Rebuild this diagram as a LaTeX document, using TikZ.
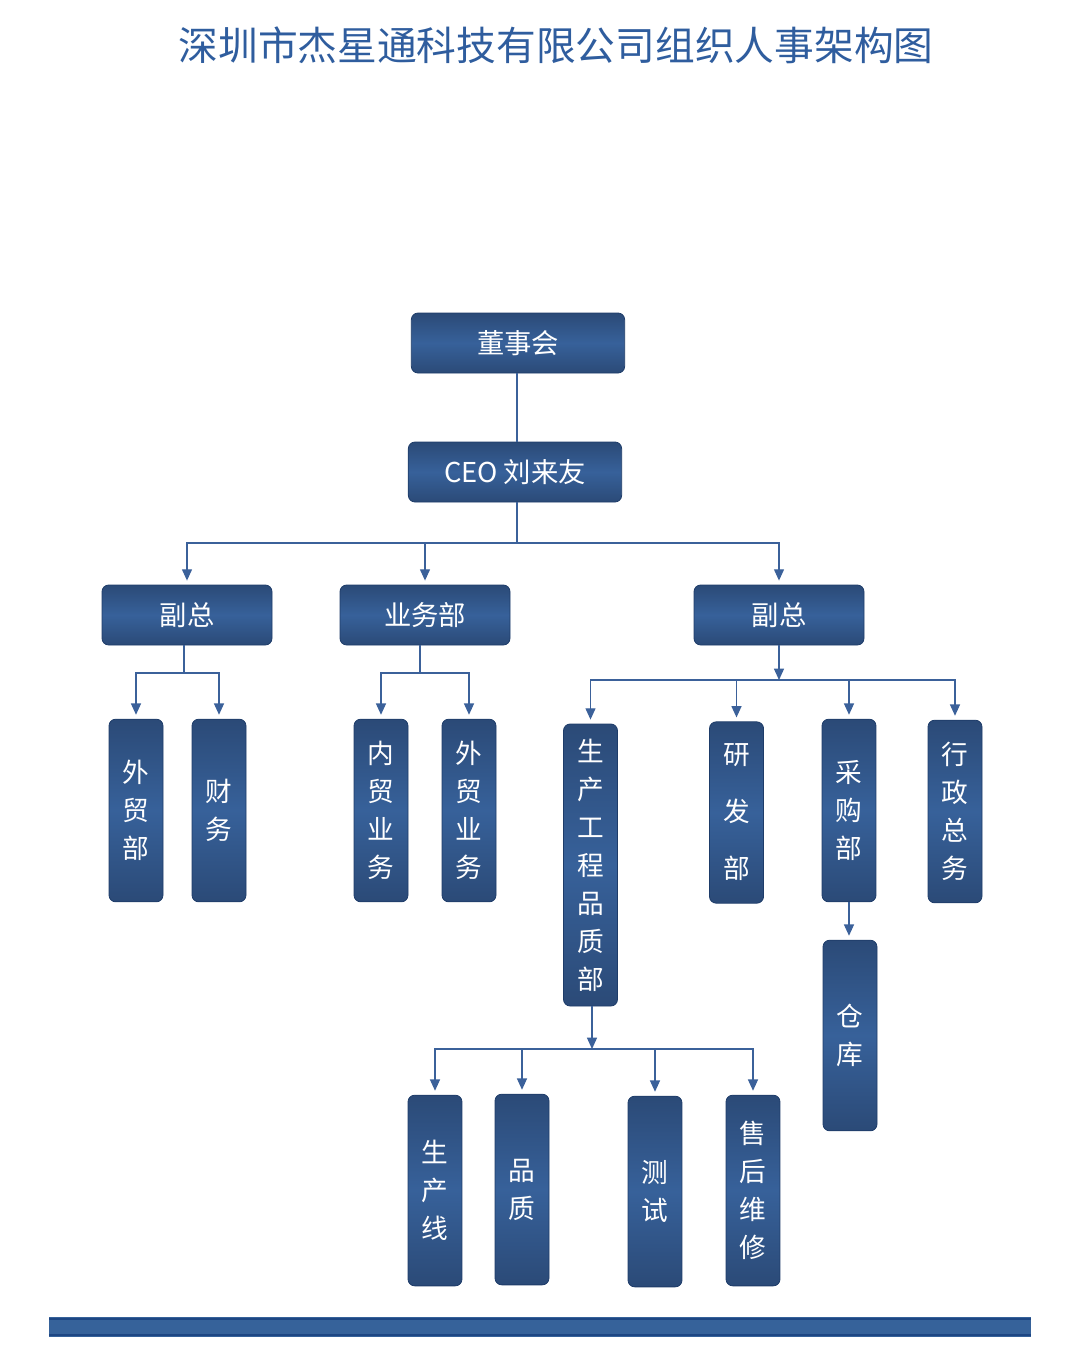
\documentclass[tikz,border=0pt]{standalone}
\usepackage{fontspec}
\setmainfont{Noto Sans CJK SC}
\usetikzlibrary{positioning,arrows.meta,calc}
\definecolor{boxdark}{HTML}{2B4A77}
\definecolor{boxmid}{HTML}{37619A}
\definecolor{boxline}{HTML}{1E3C69}
\definecolor{linkblue}{HTML}{3B619A}
\definecolor{titleblue}{HTML}{2F5D9E}
\definecolor{barblue}{HTML}{36629A}
\definecolor{bardark}{HTML}{1D4683}

\begin{document}
\begin{tikzpicture}[
    x=0.75pt, y=-0.75pt,
    box/.style={draw=boxline, line width=0.6pt, rounded corners=5pt,
                top color=boxdark, bottom color=boxdark, middle color=boxmid,
                text=white, inner sep=0pt},
    hbox/.style={box, minimum width=127.5pt, minimum height=45pt,
                 font=\fontsize{20.5}{24}\selectfont},
    vbox/.style={box, minimum width=40.5pt, align=center,
                 font=\fontsize{20}{28.5}\selectfont},
    conn/.style={draw=linkblue, line width=1pt},
    arr/.style={conn, -{Triangle[length=8.5pt,width=7.5pt]}, shorten >=3pt},
  ]
  \useasboundingbox (0,0) rectangle (1080,1371);

  % --- title ---
  \node[font=\fontsize{29.8}{34}\selectfont, text=titleblue] (title) at (556,45)
    {深圳市杰星通科技有限公司组织人事架构图};

  % --- top levels ---
  \node[hbox, minimum width=160pt] (dsh) at (518,343) {董事会};
  \node[hbox, minimum width=160pt] (ceo) at (515,472) {CEO 刘来友};
  \node[hbox] (fzl) at (187,615) {副总};
  \node[hbox] (ywb) at (425,615) {业务部};
  \node[hbox] (fzr) at (779,615) {副总};

  % --- departments ---
  \node[vbox, minimum height=137pt] (wmb)  at (136,810.5) {外\\贸\\部};
  \node[vbox, minimum height=137pt] (cw)   at (219,810.5) {财\\务};
  \node[vbox, minimum height=137pt] (nmyw) at (381,810.5) {内\\贸\\业\\务};
  \node[vbox, minimum height=137pt] (wmyw) at (469,810.5) {外\\贸\\业\\务};
  \node[vbox, minimum height=211.5pt] (scgc) at (590.5,865) {生\\产\\工\\程\\品\\质\\部};
  \node[vbox, minimum height=136pt, font=\fontsize{20}{42.75}\selectfont]
    (yfb) at (736.5,812.5) {研\\发\\部};
  \node[vbox, minimum height=137pt] (cgb)  at (849,810.5) {采\\购\\部};
  \node[vbox, minimum height=137pt] (xzzw) at (955,811.5) {行\\政\\总\\务};
  \node[vbox, minimum height=143pt] (ck)   at (850,1035.5) {仓\\库};

  % --- production sub-units ---
  \node[vbox, minimum height=143pt] (scx)  at (435,1190.5) {生\\产\\线};
  \node[vbox, minimum height=143pt] (pz)   at (522,1189.5) {品\\质};
  \node[vbox, minimum height=143pt] (cs)   at (655,1191.5) {测\\试};
  \node[vbox, minimum height=143pt] (shwx) at (753,1190.5) {售\\后\\维\\修};

  % --- bus points ---
  \coordinate (busA) at (517,543);
  \coordinate (busL) at (184,673);
  \coordinate (busY) at (420,673);
  \coordinate (busR) at (779,680);
  \coordinate (busQ) at (592,1049);

  % --- connectors ---
  \draw[conn] (dsh.south -| busA) -- (ceo.north -| busA);
  \draw[conn] (ceo.south -| busA) -- (busA);
  \draw[arr] (busA) -| (fzl.north);
  \draw[arr] (busA) -| (ywb.north);
  \draw[arr] (busA) -| (fzr.north);

  \draw[conn] (fzl.south -| busL) -- (busL);
  \draw[arr] (busL) -| (wmb.north);
  \draw[arr] (busL) -| (cw.north);

  \draw[conn] (ywb.south -| busY) -- (busY);
  \draw[arr] (busY) -| (nmyw.north);
  \draw[arr] (busY) -| (wmyw.north);

  \draw[arr, shorten >=0pt] (fzr.south) -- (busR);
  \draw[arr] (busR) -| (scgc.north);
  \draw[arr] (busR) -| (yfb.north);
  \draw[arr] (busR) -| (cgb.north);
  \draw[arr] (busR) -| (xzzw.north);

  \draw[arr] (cgb.south) -- (cgb.south |- ck.north);

  \draw[arr, shorten >=0pt] (scgc.south -| busQ) -- (busQ);
  \draw[arr] (busQ) -| (scx.north);
  \draw[arr] (busQ) -| (pz.north);
  \draw[arr] (busQ) -| (cs.north);
  \draw[arr] (busQ) -| (shwx.north);

  % --- bottom bar ---
  \fill[barblue] (49,1317) rectangle (1031,1337);
  \draw[bardark, line width=0.8pt] (49,1319) -- (1031,1319) (49,1335) -- (1031,1335);
\end{tikzpicture}
\end{document}
